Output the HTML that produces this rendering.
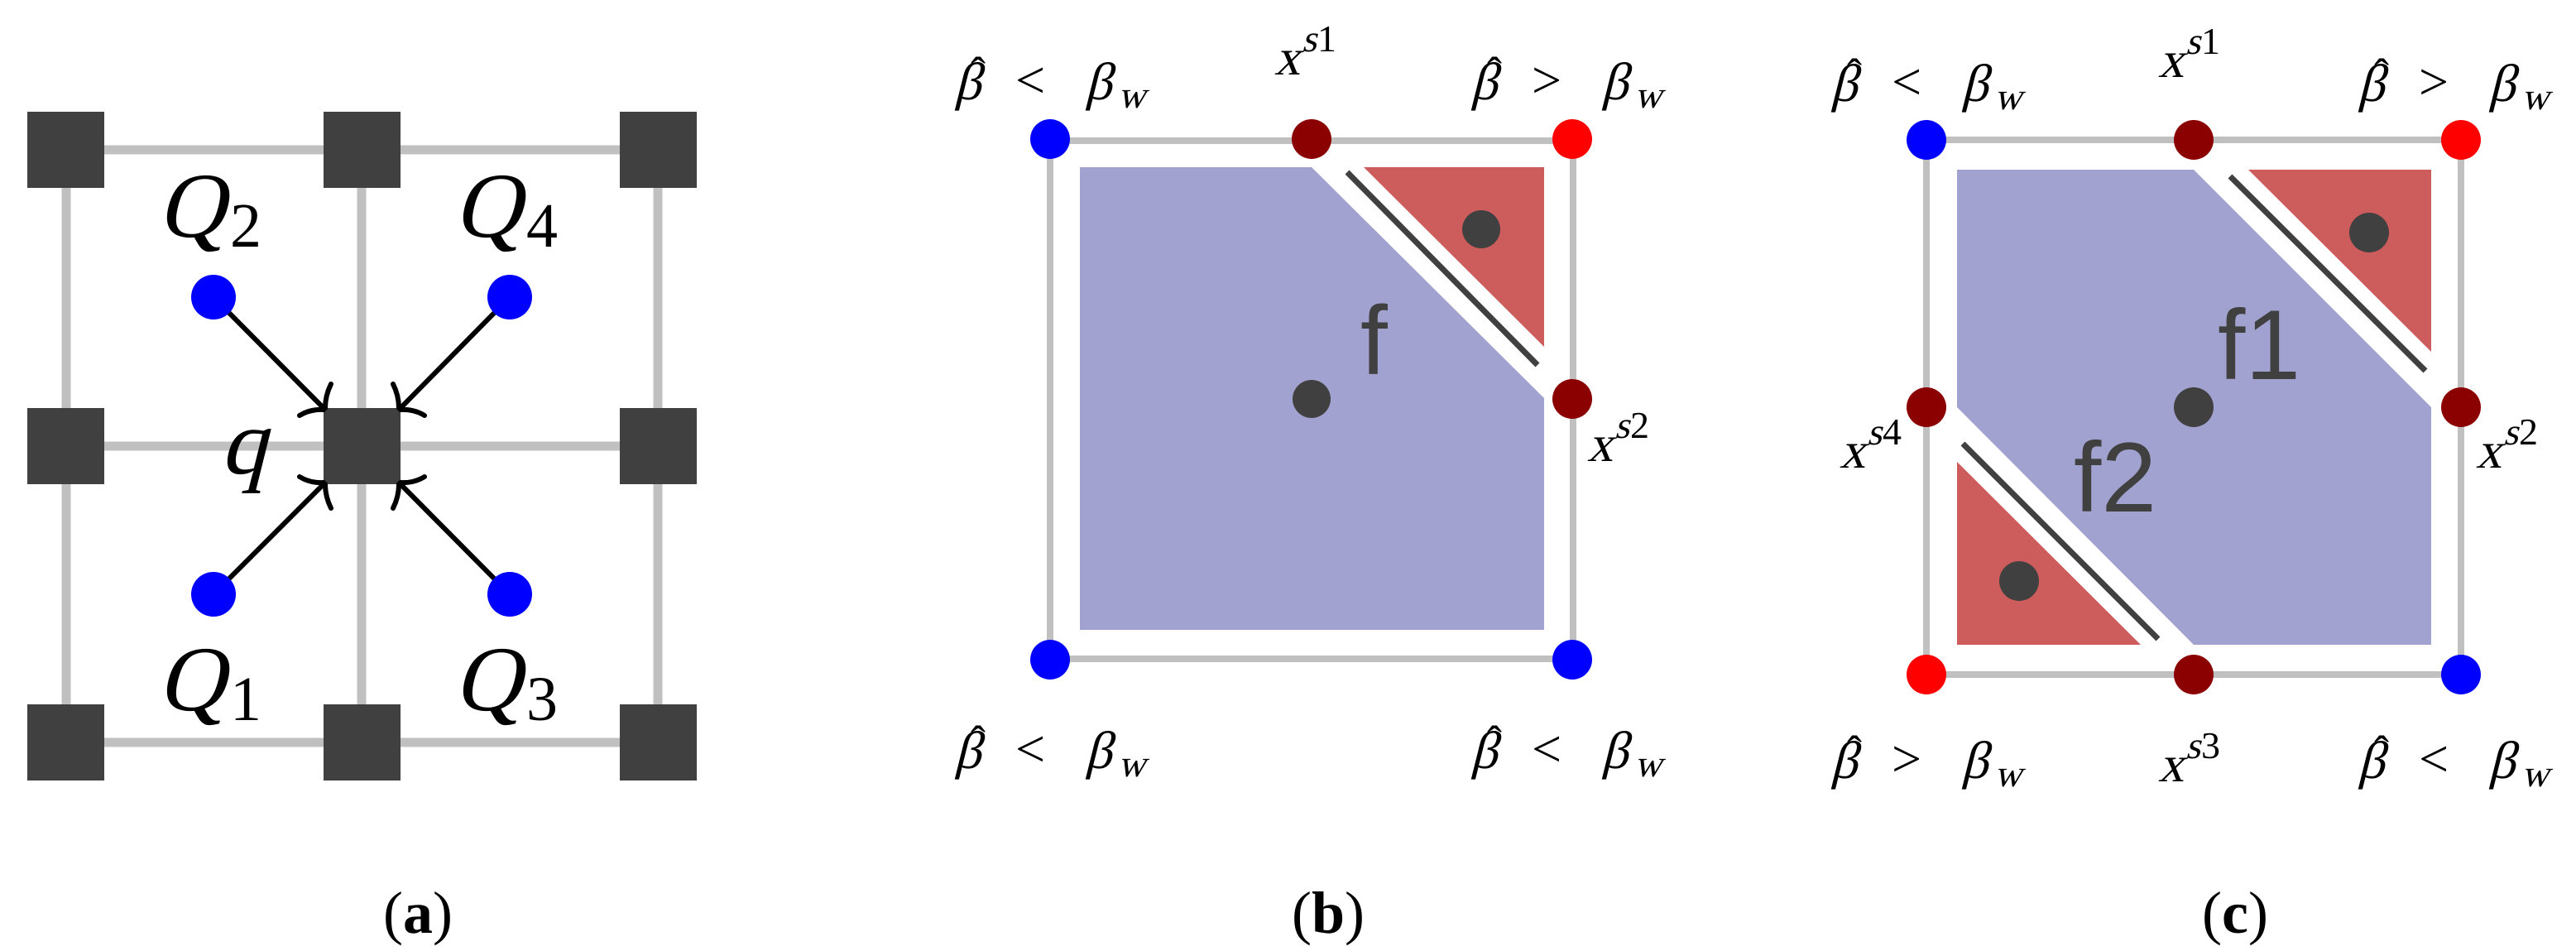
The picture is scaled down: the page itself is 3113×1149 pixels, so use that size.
<!DOCTYPE html>
<html><head><meta charset="utf-8"><style>
html,body{margin:0;padding:0;background:#fff;}
svg{display:block;}
text{font-family:"Liberation Serif",serif;}
.m{font-family:"Liberation Serif",serif;font-style:normal;fill:#000;}
.s{font-family:"Liberation Sans",sans-serif;fill:#404040;}
.cap{font-family:"Liberation Serif",serif;font-size:72px;fill:#000;}
</style></head><body>
<svg width="3113" height="1149" viewBox="0 0 3113 1149" xmlns="http://www.w3.org/2000/svg">
<defs>
<g id="lt">
  <g transform="translate(0,0) skewX(-14)"><text class="m" font-size="64">β</text></g>
  <text class="m" x="20" y="-14" font-size="54">ˆ</text>
  <text class="m" x="74" y="-2" font-size="64">&lt;</text>
  <g transform="translate(158,0) skewX(-14)"><text class="m" font-size="64">β</text></g>
  <g transform="translate(198,10) skewX(-14)"><text class="m" font-size="46">w</text></g>
</g>
<g id="gt">
  <g transform="translate(0,0) skewX(-14)"><text class="m" font-size="64">β</text></g>
  <text class="m" x="20" y="-14" font-size="54">ˆ</text>
  <text class="m" x="74" y="-2" font-size="64">&gt;</text>
  <g transform="translate(158,0) skewX(-14)"><text class="m" font-size="64">β</text></g>
  <g transform="translate(198,10) skewX(-14)"><text class="m" font-size="46">w</text></g>
</g>
</defs>

<!-- Panel (a) -->
<g stroke="#c0c0c0" stroke-width="11">
  <line x1="80" y1="181" x2="795" y2="181"/>
  <line x1="80" y1="539" x2="795" y2="539"/>
  <line x1="80" y1="897" x2="795" y2="897"/>
  <line x1="80" y1="181" x2="80" y2="897"/>
  <line x1="437" y1="181" x2="437" y2="897"/>
  <line x1="795" y1="181" x2="795" y2="897"/>
</g>
<g fill="#404040">
  <rect x="33" y="135" width="93" height="92"/>
  <rect x="391" y="135" width="93" height="92"/>
  <rect x="749" y="135" width="93" height="92"/>
  <rect x="33" y="493" width="93" height="92"/>
  <rect x="391" y="493" width="93" height="92"/>
  <rect x="749" y="493" width="93" height="92"/>
  <rect x="33" y="851" width="93" height="92"/>
  <rect x="391" y="851" width="93" height="92"/>
  <rect x="749" y="851" width="93" height="92"/>
</g>
<g stroke="#000" stroke-width="6" fill="none" stroke-linecap="round">
  <line x1="258" y1="359" x2="391" y2="493"/>
  <line x1="616" y1="359" x2="484" y2="493"/>
  <line x1="258" y1="718" x2="391" y2="585"/>
  <line x1="616" y1="718" x2="484" y2="585"/>
  <path d="M362,502 Q375,494 391,495 M400,464 Q393,478 393,493"/>
  <path d="M513,502 Q500,494 484,495 M475,464 Q482,478 482,493"/>
  <path d="M362,576 Q375,584 391,583 M400,614 Q393,600 393,585"/>
  <path d="M513,576 Q500,584 484,583 M475,614 Q482,600 482,585"/>
</g>
<g fill="#0000ff">
  <circle cx="258" cy="359" r="27"/>
  <circle cx="616" cy="359" r="27"/>
  <circle cx="258" cy="718" r="27"/>
  <circle cx="616" cy="718" r="27"/>
</g>
<g transform="translate(190,286) skewX(-14)"><text class="m" font-size="112">Q</text></g><text x="278" y="298" font-size="76">2</text>
<g transform="translate(548,286) skewX(-14)"><text class="m" font-size="112">Q</text></g><text x="636" y="298" font-size="76">4</text>
<g transform="translate(190,858) skewX(-14)"><text class="m" font-size="112">Q</text></g><text x="278" y="870" font-size="76">1</text>
<g transform="translate(548,858) skewX(-14)"><text class="m" font-size="112">Q</text></g><text x="636" y="870" font-size="76">3</text>
<g transform="translate(266,572) skewX(-14)"><text class="m" font-size="112">q</text></g>
<text class="cap" x="505" y="1127" text-anchor="middle">(<tspan font-weight="bold">a</tspan>)</text>

<!-- Panel (b) -->
<polygon points="1305,202 1585,202 1866,481 1866,761 1305,761" fill="#a2a2d0"/>
<polygon points="1648,202 1866,202 1866,419" fill="#cd5c5c"/>
<line x1="1628" y1="208" x2="1858" y2="441" stroke="#404040" stroke-width="7"/>
<rect x="1269" y="170" width="632" height="626" stroke="#c0c0c0" stroke-width="8" fill="none"/>
<circle cx="1585" cy="482" r="23" fill="#404040"/>
<circle cx="1790" cy="277" r="23" fill="#404040"/>
<circle cx="1269" cy="168" r="24" fill="#0000ff"/>
<circle cx="1585" cy="168" r="24" fill="#8b0000"/>
<circle cx="1900" cy="168" r="24" fill="#ff0000"/>
<circle cx="1900" cy="482" r="24" fill="#8b0000"/>
<circle cx="1269" cy="797" r="24" fill="#0000ff"/>
<circle cx="1900" cy="797" r="24" fill="#0000ff"/>
<text class="s" x="1644" y="452" font-size="118">f</text>
<use href="#lt" x="1153" y="120"/>
<use href="#gt" x="1777" y="120"/>
<use href="#lt" x="1153" y="928"/>
<use href="#lt" x="1777" y="928"/>
<g transform="translate(1540,90) skewX(-14)"><text class="m" font-size="62">x</text><text class="m" x="26" y="-28" font-size="46">s</text></g><text x="1592" y="62" font-size="46">1</text>
<g transform="translate(1918,557) skewX(-14)"><text class="m" font-size="62">x</text><text class="m" x="26" y="-28" font-size="46">s</text></g><text x="1970" y="529" font-size="46">2</text>
<text class="cap" x="1605" y="1127" text-anchor="middle">(<tspan font-weight="bold">b</tspan>)</text>

<!-- Panel (c) -->
<polygon points="2365,205 2651,205 2938,492 2938,779 2651,779 2365,492" fill="#a2a2d0"/>
<polygon points="2717,205 2938,205 2938,425" fill="#cd5c5c"/>
<polygon points="2365,558 2365,779 2587,779" fill="#cd5c5c"/>
<line x1="2695" y1="213" x2="2931" y2="448" stroke="#404040" stroke-width="7"/>
<line x1="2372" y1="536" x2="2608" y2="772" stroke="#404040" stroke-width="7"/>
<rect x="2328" y="169" width="646" height="646" stroke="#c0c0c0" stroke-width="8" fill="none"/>
<circle cx="2863" cy="281" r="24" fill="#404040"/>
<circle cx="2651" cy="492" r="24" fill="#404040"/>
<circle cx="2440" cy="702" r="24" fill="#404040"/>
<circle cx="2328" cy="169" r="24" fill="#0000ff"/>
<circle cx="2651" cy="169" r="24" fill="#8b0000"/>
<circle cx="2974" cy="169" r="24" fill="#ff0000"/>
<circle cx="2328" cy="492" r="24" fill="#8b0000"/>
<circle cx="2974" cy="492" r="24" fill="#8b0000"/>
<circle cx="2328" cy="815" r="24" fill="#ff0000"/>
<circle cx="2651" cy="815" r="24" fill="#8b0000"/>
<circle cx="2974" cy="815" r="24" fill="#0000ff"/>
<text class="s" x="2680" y="458" font-size="120">f1</text>
<text class="s" x="2506" y="618" font-size="120">f2</text>
<use href="#lt" x="2212" y="122"/>
<use href="#gt" x="2849" y="122"/>
<use href="#gt" x="2212" y="940"/>
<use href="#lt" x="2849" y="940"/>
<g transform="translate(2608,93) skewX(-14)"><text class="m" font-size="62">x</text><text class="m" x="26" y="-28" font-size="46">s</text></g><text x="2660" y="65" font-size="46">1</text>
<g transform="translate(2223,565) skewX(-14)"><text class="m" font-size="62">x</text><text class="m" x="26" y="-28" font-size="46">s</text></g><text x="2275" y="537" font-size="46">4</text>
<g transform="translate(2992,565) skewX(-14)"><text class="m" font-size="62">x</text><text class="m" x="26" y="-28" font-size="46">s</text></g><text x="3044" y="537" font-size="46">2</text>
<g transform="translate(2608,944) skewX(-14)"><text class="m" font-size="62">x</text><text class="m" x="26" y="-28" font-size="46">s</text></g><text x="2660" y="916" font-size="46">3</text>
<text class="cap" x="2701" y="1127" text-anchor="middle">(<tspan font-weight="bold">c</tspan>)</text>
</svg>
</body></html>
